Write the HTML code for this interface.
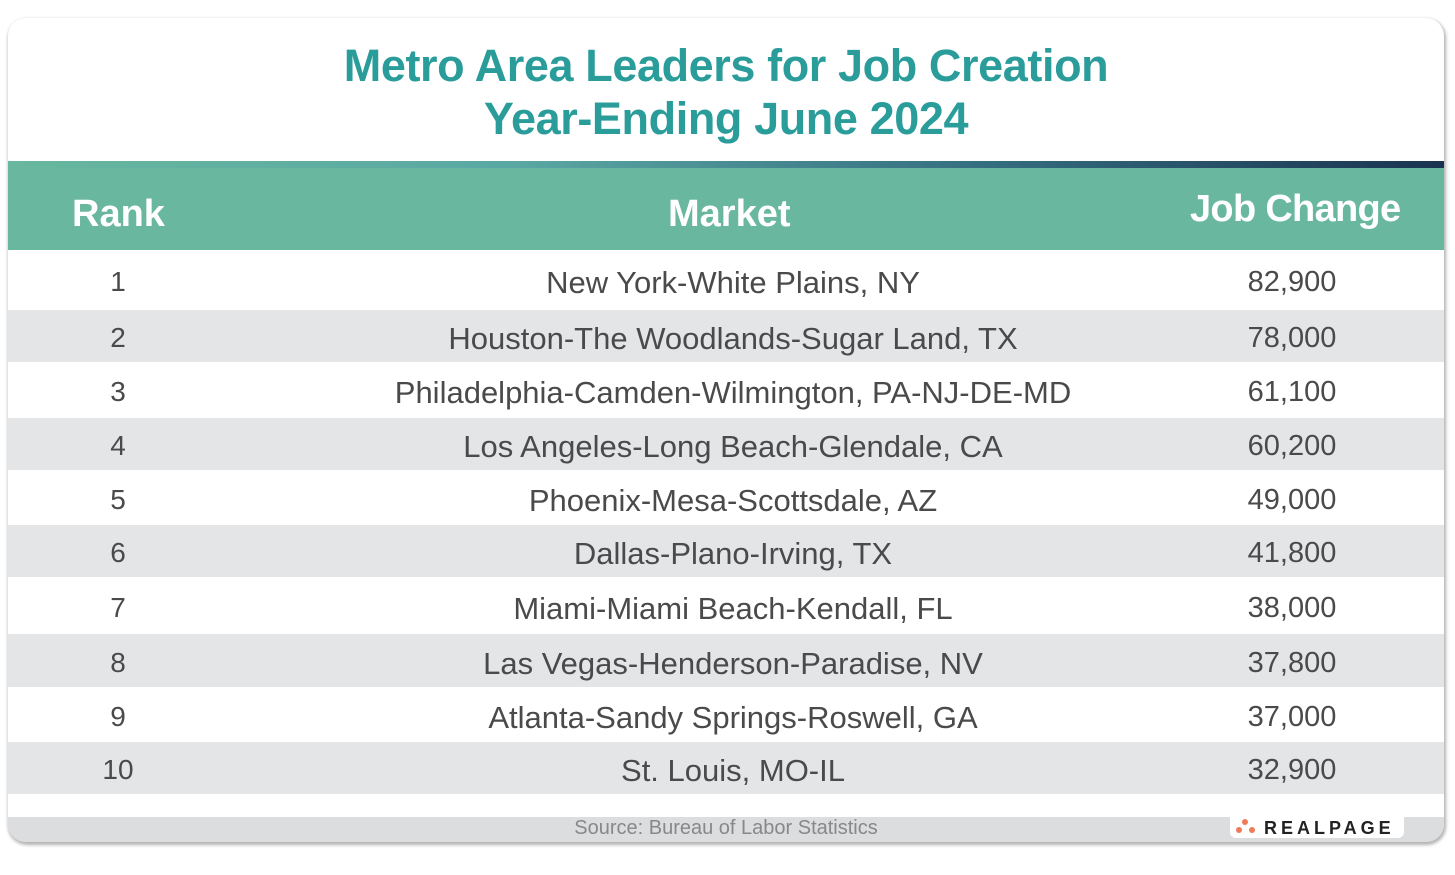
<!DOCTYPE html>
<html><head><meta charset="utf-8"><style>
html,body{margin:0;padding:0;background:#fff;}
body{width:1455px;height:875px;position:relative;overflow:hidden;font-family:"Liberation Sans",sans-serif;}
.card{position:absolute;left:8px;top:18px;width:1436px;height:824px;border-radius:18px;background:#fff;box-shadow:1px 2px 3px 1px rgba(0,0,0,0.3);overflow:hidden;}
.title{position:absolute;left:0;width:1436px;text-align:center;color:#2a9d9b;font-weight:bold;font-size:45px;letter-spacing:-0.4px;}
.strip{position:absolute;left:0;top:143px;width:1436px;height:8px;background:linear-gradient(90deg,#68b79e 0%,#5aa8a4 35%,#336a7e 70%,#1a3350 100%);}
.head{position:absolute;left:0;top:150px;width:1436px;height:82px;background:#68b79e;color:#fff;font-weight:bold;font-size:38px;}
.head div{position:absolute;top:25px;}
.row{position:absolute;left:0;width:1436px;color:#4a4a4a;font-size:31px;}
.row span{position:absolute;top:50%;transform:translateY(-50%);margin-top:3px;}
.g{background:#e4e5e7;}
.c1{left:110px;width:0;text-align:center;}
.c1 b{font-weight:normal;position:absolute;transform:translateX(-50%);white-space:nowrap;top:-17px;font-size:28px;}
.c2{left:0;width:1450px;text-align:center;}
.c3{left:1284px;width:0;}
.c3 b{font-weight:normal;position:absolute;transform:translateX(-50%);white-space:nowrap;top:-17px;font-size:29px;}
.foot{position:absolute;left:0;top:799px;width:1436px;height:25px;background:#dcdddf;color:#888;font-size:20px;text-align:center;line-height:22px;}
.logo{position:absolute;left:1222px;top:796px;width:174px;height:24px;background:#fff;border-radius:0 0 6px 6px;}
</style></head><body>
<div class="card">
<div class="title" style="top:22px;">Metro Area Leaders for Job Creation</div>
<div class="title" style="top:75px;">Year-Ending June 2024</div>
<div class="strip"></div>
<div class="head"><div style="left:64px;">Rank</div><div style="left:660px;">Market</div><div style="left:1182px;top:20px;letter-spacing:-0.7px;">Job Change</div></div>
<div class="row" style="top:232px;height:60px;"><span class="c1"><b>1</b></span><span class="c2">New York-White Plains, NY</span><span class="c3"><b>82,900</b></span></div>
<div class="row g" style="top:292px;height:52px;"><span class="c1"><b>2</b></span><span class="c2">Houston-The Woodlands-Sugar Land, TX</span><span class="c3"><b>78,000</b></span></div>
<div class="row" style="top:344px;height:56px;"><span class="c1"><b>3</b></span><span class="c2">Philadelphia-Camden-Wilmington, PA-NJ-DE-MD</span><span class="c3"><b>61,100</b></span></div>
<div class="row g" style="top:400px;height:52px;"><span class="c1"><b>4</b></span><span class="c2">Los Angeles-Long Beach-Glendale, CA</span><span class="c3"><b>60,200</b></span></div>
<div class="row" style="top:452px;height:55px;"><span class="c1"><b>5</b></span><span class="c2">Phoenix-Mesa-Scottsdale, AZ</span><span class="c3"><b>49,000</b></span></div>
<div class="row g" style="top:507px;height:52px;"><span class="c1"><b>6</b></span><span class="c2">Dallas-Plano-Irving, TX</span><span class="c3"><b>41,800</b></span></div>
<div class="row" style="top:559px;height:57px;"><span class="c1"><b>7</b></span><span class="c2">Miami-Miami Beach-Kendall, FL</span><span class="c3"><b>38,000</b></span></div>
<div class="row g" style="top:616px;height:53px;"><span class="c1"><b>8</b></span><span class="c2">Las Vegas-Henderson-Paradise, NV</span><span class="c3"><b>37,800</b></span></div>
<div class="row" style="top:669px;height:55px;"><span class="c1"><b>9</b></span><span class="c2">Atlanta-Sandy Springs-Roswell, GA</span><span class="c3"><b>37,000</b></span></div>
<div class="row g" style="top:724px;height:52px;"><span class="c1"><b>10</b></span><span class="c2">St. Louis, MO-IL</span><span class="c3"><b>32,900</b></span></div>
<div class="foot">Source: Bureau of Labor Statistics</div>
<div class="logo">
<svg width="174" height="24" style="position:absolute;left:0;top:0">
<circle cx="15" cy="8" r="3" fill="#ef7b57"/><circle cx="9" cy="16" r="3" fill="#ef7b57"/><circle cx="22" cy="16" r="3" fill="#ef7b57"/>
<text x="34" y="20" font-family="Liberation Sans" font-weight="bold" font-size="18" letter-spacing="4" fill="#222">REALPAGE</text>
</svg></div>
</div>
</body></html>
